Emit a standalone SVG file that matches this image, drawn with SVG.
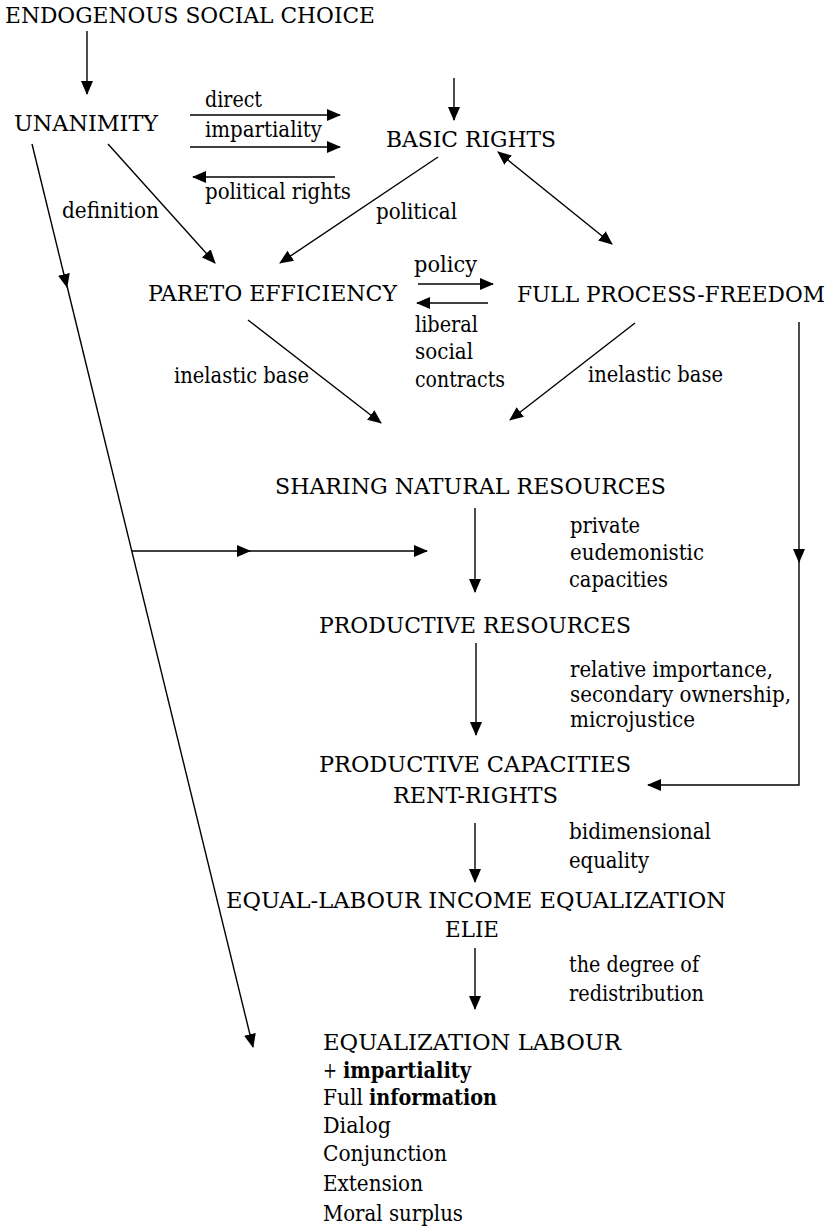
<svg xmlns="http://www.w3.org/2000/svg" width="833" height="1230" viewBox="0 0 833 1230">
<style>
text { font-family: "DejaVu Serif", "Liberation Serif", serif; font-size: 22px; fill: #000; }
.c { stroke: #000; stroke-width: 1.4; fill: none; marker-end: url(#ah); }
.b { font-weight: bold; }
</style>
<defs>
<marker id="ah" markerUnits="userSpaceOnUse" markerWidth="14" markerHeight="12" refX="13" refY="6" orient="auto-start-reverse">
<path d="M0,0 L14,6 L0,12 z" fill="#000"/>
</marker>
</defs>
<rect width="833" height="1230" fill="#fff"/>

<g id="connectors">
<line class="c" x1="87" y1="31" x2="87" y2="94"/>
<line class="c" x1="190" y1="115" x2="340" y2="115"/>
<line class="c" x1="190" y1="147" x2="340" y2="147"/>
<line class="c" x1="335" y1="177" x2="193" y2="177"/>
<line class="c" x1="454" y1="78" x2="454" y2="120"/>
<line class="c" x1="108" y1="144" x2="215" y2="263"/>
<line class="c" x1="438" y1="157" x2="280" y2="263"/>
<line class="c" x1="498" y1="152" x2="612" y2="244" marker-start="url(#ah)"/>
<line class="c" x1="418" y1="284" x2="493" y2="284"/>
<line class="c" x1="488" y1="303" x2="417" y2="303"/>
<line class="c" x1="248" y1="320" x2="381" y2="423"/>
<line class="c" x1="635" y1="323" x2="510" y2="420"/>
<line class="c" x1="799" y1="322" x2="799" y2="562"/>
<polyline class="c" points="799,560 799,785 648,785"/>
<line class="c" x1="32" y1="144" x2="67" y2="287"/>
<line class="c" x1="67" y1="286" x2="253" y2="1047"/>
<line class="c" x1="132" y1="551" x2="250" y2="551"/>
<line class="c" x1="248" y1="551" x2="427" y2="551"/>
<line class="c" x1="475" y1="508" x2="475" y2="592"/>
<line class="c" x1="476" y1="643" x2="476" y2="735"/>
<line class="c" x1="475" y1="823" x2="475" y2="882"/>
<line class="c" x1="475" y1="948" x2="475" y2="1009"/>
</g>

<g id="edge-labels">
<text x="205" y="107" textLength="57" lengthAdjust="spacingAndGlyphs">direct</text>
<text x="205" y="137" textLength="117" lengthAdjust="spacingAndGlyphs">impartiality</text>
<text x="205" y="199" textLength="146" lengthAdjust="spacingAndGlyphs">political rights</text>
<text x="62" y="218" textLength="97" lengthAdjust="spacingAndGlyphs">definition</text>
<text x="376" y="219" textLength="81" lengthAdjust="spacingAndGlyphs">political</text>
<text x="414" y="272" textLength="63" lengthAdjust="spacingAndGlyphs">policy</text>
<text x="415" y="332" textLength="63" lengthAdjust="spacingAndGlyphs">liberal</text>
<text x="415" y="359" textLength="58" lengthAdjust="spacingAndGlyphs">social</text>
<text x="415" y="387" textLength="90" lengthAdjust="spacingAndGlyphs">contracts</text>
<text x="174" y="383" textLength="135" lengthAdjust="spacingAndGlyphs">inelastic base</text>
<text x="588" y="382" textLength="135" lengthAdjust="spacingAndGlyphs">inelastic base</text>
<text x="570" y="533" textLength="70" lengthAdjust="spacingAndGlyphs">private</text>
<text x="570" y="560" textLength="134" lengthAdjust="spacingAndGlyphs">eudemonistic</text>
<text x="569" y="587" textLength="99" lengthAdjust="spacingAndGlyphs">capacities</text>
<text x="570" y="677" textLength="203" lengthAdjust="spacingAndGlyphs">relative importance,</text>
<text x="570" y="702" textLength="221" lengthAdjust="spacingAndGlyphs">secondary ownership,</text>
<text x="570" y="727" textLength="125" lengthAdjust="spacingAndGlyphs">microjustice</text>
<text x="569" y="839" textLength="142" lengthAdjust="spacingAndGlyphs">bidimensional</text>
<text x="569" y="868" textLength="80" lengthAdjust="spacingAndGlyphs">equality</text>
<text x="569" y="972" textLength="130" lengthAdjust="spacingAndGlyphs">the degree of</text>
<text x="569" y="1001" textLength="135" lengthAdjust="spacingAndGlyphs">redistribution</text>
</g>

<g id="endogenous-social-choice"><text x="5" y="23" textLength="370" lengthAdjust="spacingAndGlyphs">ENDOGENOUS SOCIAL CHOICE</text></g>
<g id="unanimity"><text x="14" y="131" textLength="144" lengthAdjust="spacingAndGlyphs">UNANIMITY</text></g>
<g id="basic-rights"><text x="386" y="147" textLength="170" lengthAdjust="spacingAndGlyphs">BASIC RIGHTS</text></g>
<g id="pareto-efficiency"><text x="148" y="301" textLength="249" lengthAdjust="spacingAndGlyphs">PARETO EFFICIENCY</text></g>
<g id="full-process-freedom"><text x="517" y="302" textLength="308" lengthAdjust="spacingAndGlyphs">FULL PROCESS-FREEDOM</text></g>
<g id="sharing-natural-resources"><text x="275" y="494" textLength="391" lengthAdjust="spacingAndGlyphs">SHARING NATURAL RESOURCES</text></g>
<g id="productive-resources"><text x="319" y="633" textLength="312" lengthAdjust="spacingAndGlyphs">PRODUCTIVE RESOURCES</text></g>
<g id="productive-capacities"><text x="319" y="772" textLength="312" lengthAdjust="spacingAndGlyphs">PRODUCTIVE CAPACITIES</text><text x="393" y="803" textLength="165" lengthAdjust="spacingAndGlyphs">RENT-RIGHTS</text></g>
<g id="elie"><text x="226" y="908" textLength="500" lengthAdjust="spacingAndGlyphs">EQUAL-LABOUR INCOME EQUALIZATION</text><text x="445" y="937" textLength="54" lengthAdjust="spacingAndGlyphs">ELIE</text></g>
<g id="equalization-labour">
<text x="323" y="1050" textLength="298" lengthAdjust="spacingAndGlyphs">EQUALIZATION LABOUR</text>
<text x="323" y="1078" textLength="14" lengthAdjust="spacingAndGlyphs">+</text>
<text class="b" x="343" y="1078" textLength="128" lengthAdjust="spacingAndGlyphs">impartiality</text>
<text x="323" y="1105" textLength="40" lengthAdjust="spacingAndGlyphs">Full</text>
<text class="b" x="369" y="1105" textLength="128" lengthAdjust="spacingAndGlyphs">information</text>
<text x="323" y="1133" textLength="68" lengthAdjust="spacingAndGlyphs">Dialog</text>
<text x="323" y="1161" textLength="124" lengthAdjust="spacingAndGlyphs">Conjunction</text>
<text x="323" y="1191" textLength="100" lengthAdjust="spacingAndGlyphs">Extension</text>
<text x="323" y="1221" textLength="140" lengthAdjust="spacingAndGlyphs">Moral surplus</text>
</g>
</svg>
